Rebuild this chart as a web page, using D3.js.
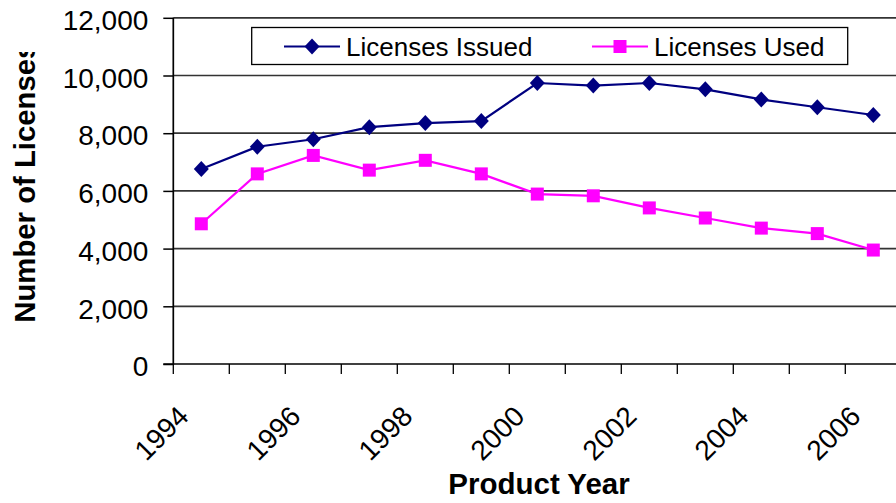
<!DOCTYPE html>
<html>
<head>
<meta charset="utf-8">
<script src="https://cdn.jsdelivr.net/npm/d3@7"></script>
<style>
  html, body { margin: 0; padding: 0; background: #fff; }
  svg { display: block; font-family: Arial, "Liberation Sans", sans-serif; }
</style>
</head>
<body>
<svg id="chart" width="896" height="503"></svg>
<script>
const years = [1994,1995,1996,1997,1998,1999,2000,2001,2002,2003,2004,2005,2006];
const licensesIssued = [6760,7530,7790,8210,8350,8420,9740,9650,9740,9520,9170,8900,8630];
const licensesUsed   = [4860,6590,7230,6720,7060,6590,5890,5830,5410,5060,4710,4520,3950];
const yTicks = [0,2000,4000,6000,8000,10000,12000];
const xLabelYears = [1994,1996,1998,2000,2002,2004,2006];
const seriesNames = ["Licenses Issued","Licenses Used"];

(function () {
const svg = d3.select("#chart");
const W = 896, H = 503;
const plotLeft = 173.3, plotBottom = 364, plotTop = 17.8;
const band = 56;

const x = d3.scaleBand().domain(years).range([plotLeft, plotLeft + band * years.length]).padding(0);
const y = d3.scaleLinear().domain([0, 12000]).range([plotBottom, plotTop]);
const cx = d => x(d) + x.bandwidth() / 2;

// gridlines
svg.append("g").selectAll("line").data(yTicks.filter(v => v > 0)).join("line")
  .attr("x1", plotLeft).attr("x2", W)
  .attr("y1", d => y(d)).attr("y2", d => y(d))
  .attr("stroke", "#333").attr("stroke-width", 1.7);

// y axis
const yAxis = d3.axisLeft(y).tickValues(yTicks).tickFormat(d3.format(",")).tickSize(10).tickPadding(15);
const yg = svg.append("g").attr("transform", `translate(${plotLeft},0)`).call(yAxis);
yg.select(".domain").remove();
yg.selectAll(".tick line").attr("stroke", "#000").attr("stroke-width", 1.5);
yg.selectAll(".tick text").attr("font-size", 28).attr("fill", "#000")
  .attr("font-family", "Arial, 'Liberation Sans', sans-serif")
  .attr("dy", "0.42em");
svg.append("line").attr("x1", plotLeft).attr("x2", plotLeft).attr("y1", plotTop).attr("y2", plotBottom + 1)
  .attr("stroke", "#000").attr("stroke-width", 1.7);

// x axis
svg.append("line").attr("x1", plotLeft - 10).attr("x2", W).attr("y1", plotBottom).attr("y2", plotBottom)
  .attr("stroke", "#000").attr("stroke-width", 1.7);
svg.append("g").selectAll("line").data(years).join("line")
  .attr("x1", d => x(d)).attr("x2", d => x(d))
  .attr("y1", plotBottom).attr("y2", plotBottom + 10)
  .attr("stroke", "#000").attr("stroke-width", 1.3);
svg.append("g").selectAll("text").data(xLabelYears).join("text")
  .attr("transform", d => `translate(${cx(d) - 11},${plotBottom + 54}) rotate(-45)`)
  .attr("text-anchor", "end")
  .attr("font-size", 28).attr("fill", "#000")
  .text(d => d);

// axis titles
svg.append("text").attr("x", 539).attr("y", 494).attr("text-anchor", "middle")
  .attr("font-size", 29.5).attr("font-weight", "bold").text("Product Year");

svg.append("defs").append("clipPath").attr("id", "ytclip")
  .append("rect").attr("x", 0).attr("y", 52).attr("width", 60).attr("height", 400);
svg.append("g").attr("clip-path", "url(#ytclip)")
  .append("text")
  .attr("transform", `translate(34.5,322.7) rotate(-90)`)
  .attr("text-anchor", "start")
  .attr("font-size", 29.3).attr("font-weight", "bold")
  .text("Number of Licenses");

// series
const line = d3.line().x((d, i) => cx(years[i])).y(d => y(d));
const colors = ["#000080", "#FF00FF"];
const datasets = [licensesIssued, licensesUsed];
const diamond = (g, px, py, c) => g.append("path")
  .attr("d", `M${px},${py - 8}L${px + 7.5},${py}L${px},${py + 8}L${px - 7.5},${py}Z`).attr("fill", c);
const square = (g, px, py, c) => g.append("rect")
  .attr("x", px - 6.5).attr("y", py - 6.5).attr("width", 13).attr("height", 13).attr("fill", c);

datasets.forEach((data, si) => {
  const g = svg.append("g");
  g.append("path").datum(data).attr("d", line).attr("fill", "none")
    .attr("stroke", colors[si]).attr("stroke-width", 2.2);
  data.forEach((v, i) => {
    if (si === 0) diamond(g, cx(years[i]), y(v), colors[si]);
    else square(g, cx(years[i]), y(v), colors[si]);
  });
});

// legend
const lg = svg.append("g");
lg.append("rect").attr("x", 251.7).attr("y", 27.5).attr("width", 596).attr("height", 37)
  .attr("fill", "#fff").attr("stroke", "#000").attr("stroke-width", 1.3);
const legendItems = [
  { name: seriesNames[0], x0: 284, c: colors[0], m: diamond },
  { name: seriesNames[1], x0: 592, c: colors[1], m: square }
];
legendItems.forEach(it => {
  lg.append("line").attr("x1", it.x0).attr("x2", it.x0 + 56).attr("y1", 46.5).attr("y2", 46.5)
    .attr("stroke", it.c).attr("stroke-width", 2.2);
  it.m(lg, it.x0 + 28, 46.5, it.c);
  lg.append("text").attr("x", it.x0 + 62).attr("y", 55.5).attr("font-size", 26)
    .attr("fill", "#000").text(it.name);
});
})();
</script>
</body>
</html>
